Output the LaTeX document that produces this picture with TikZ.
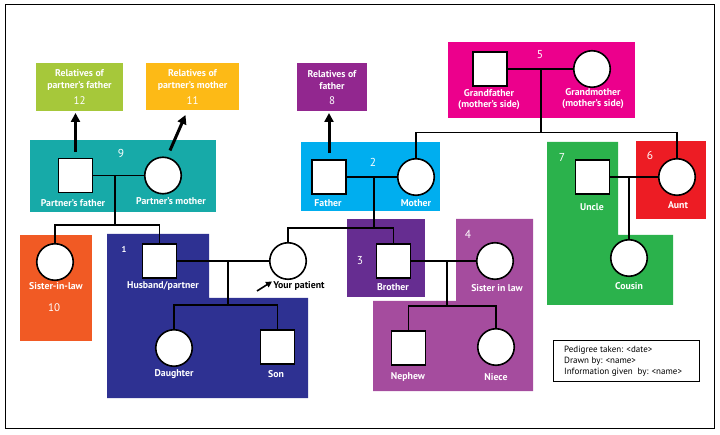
\documentclass[tikz,border=0pt]{standalone}
\usepackage{fontspec}
\setmainfont{PT Sans}
\usetikzlibrary{arrows.meta}
\definecolor{clime}{HTML}{A6C83A}
\definecolor{cyel}{HTML}{FDBA16}
\definecolor{cteal}{HTML}{17AAA8}
\definecolor{corange}{HTML}{F15A24}
\definecolor{cnavy}{HTML}{2E3192}
\definecolor{csky}{HTML}{00AEEF}
\definecolor{cpurp}{HTML}{92278F}
\definecolor{cmag}{HTML}{EC008C}
\definecolor{cgreen}{HTML}{2BB24C}
\definecolor{cred}{HTML}{ED1C24}
\definecolor{cdpurp}{HTML}{662D91}
\definecolor{cmpurp}{HTML}{A54C9E}
\begin{document}
\begin{tikzpicture}[x=1pt,y=-1pt,
  sq/.style={draw=black,fill=white,line width=1.6pt,minimum size=34pt,inner sep=0pt},
  ci/.style={draw=black,fill=white,line width=1.6pt,circle,minimum size=36.5pt,inner sep=0pt},
  lab/.style={text=white,font=\bfseries\fontsize{9.8}{11.5}\selectfont,inner sep=0pt,align=center},
  num/.style={text=white,font=\fontsize{11.5}{12}\selectfont,inner sep=0pt},
  mnum/.style={text=white,font=\fontsize{11}{12}\selectfont,inner sep=0pt},
  snum/.style={text=white,font=\bfseries\fontsize{8.5}{10}\selectfont,inner sep=0pt},
  con/.style={draw=black,line width=1.1pt},
  bigarrow/.style={line width=3pt,-{Triangle[length=9pt,width=9pt]}},
]
\useasboundingbox (0,0) rectangle (720,435);
\draw[line width=1pt] (5,4.5) rectangle (714,428);

% coloured boxes
\fill[clime] (36,63) rectangle (123,111);
\fill[cyel] (146,63) rectangle (239,110);
\fill[cteal] (30,140) rectangle (216,212);
\fill[corange] (20,235) rectangle (92,341);
\fill[cnavy] (107,234) -- (209,234) -- (209,298) -- (308,298) -- (308,398) -- (107,398) -- cycle;
\fill[cpurp] (297,63) rectangle (367,111);
\fill[csky] (301,142) rectangle (440,211);
\fill[cmag] (448,42) rectangle (635,118);
\fill[cgreen] (547,142) -- (618,142) -- (618,235) -- (673,235) -- (673,305) -- (547,305) -- cycle;
\fill[cred] (636,141) rectangle (706,219);
\fill[cdpurp] (347,219) rectangle (425,297);
\fill[cmpurp] (456,219) -- (533,219) -- (533,391) -- (373,391) -- (373,301) -- (456,301) -- cycle;

% box texts
\node[lab] (t12) at (79.5,80) {Relatives of\\partner’s father};
\node[mnum] (n12) at (79.5,101) {12};
\node[lab] (t11) at (192.5,80) {Relatives of\\partner’s mother};
\node[mnum] (n11) at (192.5,101) {11};
\node[lab] (t8) at (332,80) {Relatives of\\father};
\node[mnum] (n8) at (332,101) {8};
\node[num] (n9) at (121,153) {9};
\node[mnum] (n10) at (54,308) {10};
\node[snum] (n1) at (124,249) {1};
\node[num] (n2) at (373,162) {2};
\node[num] (n3) at (360,261) {3};
\node[num] (n4) at (468,234) {4};
\node[num] (n5) at (540,55) {5};
\node[num] (n6) at (650,155) {6};
\node[num] (n7) at (562,157) {7};

% persons
\node[sq] (pf) at (75.5,175.5) {};
\node[ci] (pm) at (163,175.5) {};
\node[ci] (sil) at (55,262) {};
\node[sq] (hus) at (159.5,261) {};
\node[ci] (pat) at (288,261) {};
\node[ci] (dau) at (174,348) {};
\node[sq] (son) at (277.5,347) {};
\node[sq] (fat) at (329,177) {};
\node[ci] (mot) at (416,177) {};
\node[sq] (gf) at (490,69) {};
\node[ci] (gm) at (592,69) {};
\node[sq] (unc) at (592.5,177) {};
\node[ci] (aunt) at (677,177) {};
\node[ci] (cou) at (629,258) {};
\node[sq] (bro) at (393.5,261) {};
\node[ci] (sil2) at (495,261) {};
\node[sq] (nep) at (408.5,348) {};
\node[ci] (nie) at (496,347) {};

% person labels
\node[lab] (lpf) at (73,203) {Partner’s father};
\node[lab] (lpm) at (171,201) {Partner’s mother};
\node[lab] (lsil) at (56,286) {Sister-in-law};
\node[lab] (lhus) at (163,286) {Husband/partner};
\node[lab,text=black] (lpat) at (299,286) {Your patient};
\node[lab] (ldau) at (174,374) {Daughter};
\node[lab] (lson) at (276,374) {Son};
\node[lab] (lfat) at (328,203) {Father};
\node[lab] (lmot) at (416,203) {Mother};
\node[lab] (lgf) at (489,99.5) {Grandfather\\(mother’s side)};
\node[lab] (lgm) at (593,98.5) {Grandmother\\(mother’s side)};
\node[lab] (lunc) at (592,207) {Uncle};
\node[lab] (launt) at (678,205) {Aunt};
\node[lab] (lcou) at (629,286) {Cousin};
\node[lab] (lbro) at (393,287) {Brother};
\node[lab] (lsil2) at (497,288) {Sister in law};
\node[lab] (lnep) at (408,377) {Nephew};
\node[lab] (lnie) at (496,377) {Niece};

% junctions
\coordinate (j9) at (115,175.5);
\coordinate (j9d) at (115,225);
\coordinate (j1) at (228,261);
\coordinate (j1d) at (228,305);
\coordinate (j2) at (374,177);
\coordinate (j2d) at (374,228);
\coordinate (j5) at (541,69);
\coordinate (j5d) at (541,132.5);
\coordinate (j7) at (629,177);
\coordinate (j4) at (447,261);
\coordinate (j4d) at (447,306);

% connectors
\draw[con] (pf.east) -- (pm.west);
\draw[con] (j9) -- (j9d);
\draw[con] (sil.north) |- (j9d) -| (hus.north);
\draw[con] (hus.east) -- (pat.west);
\draw[con] (j1) -- (j1d);
\draw[con] (dau.north) |- (j1d) -| (son.north);
\draw[con] (fat.east) -- (mot.west);
\draw[con] (j2) -- (j2d);
\draw[con] (pat.north) |- (j2d) -| (bro.north);
\draw[con] (gf.east) -- (gm.west);
\draw[con] (j5) -- (j5d);
\draw[con] (mot.north) |- (j5d) -| (aunt.north);
\draw[con] (unc.east) -- (aunt.west);
\draw[con] (j7) -- (cou.north);
\draw[con] (bro.east) -- (sil2.west);
\draw[con] (j4) -- (j4d);
\draw[con] (nep.north) |- (j4d) -| (nie.north);

% arrows to relatives
\coordinate (a12) at (75.5,113);
\coordinate (a11) at (185.5,115);
\coordinate (a8) at (329,113);
\draw[bigarrow] ([yshift=6pt]pf.north) -- (a12);
\draw[bigarrow] ([shift={(7,-6)}]pm.north) -- (a11);
\draw[bigarrow] ([yshift=6pt]fat.north) -- (a8);
\coordinate (ap) at (257,291);
\coordinate (apt) at (272,281.5);
\draw[line width=1.6pt,-{Triangle[length=6pt,width=6pt]}] (ap) -- (apt);

% info box
\node[draw=black,line width=1pt,minimum width=146pt,minimum height=41pt,inner sep=0pt] (info) at (626,361.5) {};
\node[anchor=west,align=left,inner sep=0pt,font=\fontsize{9}{11}\selectfont] (infot) at (564,361.5) {Pedigree taken: <date>\\Drawn by: <name>\\Information given\ \ by: <name>};
\end{tikzpicture}
\end{document}
